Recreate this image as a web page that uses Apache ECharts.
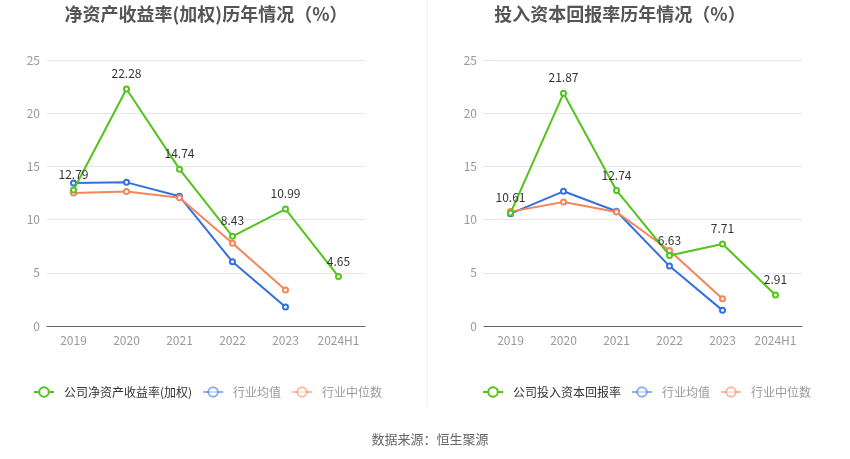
<!DOCTYPE html>
<html>
<head>
<meta charset="utf-8">
<script src="https://cdn.jsdelivr.net/npm/echarts@6/dist/echarts.min.js"></script>
<style>
  html, body { margin: 0; padding: 0; background: #fff; }
  #main { width: 850px; height: 459px; }
</style>
</head>
<body>
<div id="main"></div>
<script>
var years = ['2019', '2020', '2021', '2022', '2023', '2024H1'];

// 净资产收益率(加权)
var roeCompany = [12.79, 22.28, 14.74, 8.43, 10.99, 4.65];
var roeAvg = [13.44, 13.5, 12.19, 6.03, 1.78];
var roeMedian = [12.5, 12.63, 12.06, 7.78, 3.38];

// 投入资本回报率
var roicCompany = [10.61, 21.87, 12.74, 6.63, 7.71, 2.91];
var roicAvg = [10.56, 12.66, 10.78, 5.63, 1.47];
var roicMedian = [10.75, 11.66, 10.72, 7.09, 2.56];

var green = '#52c41a',
    blue = '#3470e0',
    orange = '#f5855a';

var chart = echarts.init(document.getElementById('main'));

function lineSeries(name, data, color, idx, label) {
    return {
        name: name,
        type: 'line',
        xAxisIndex: idx,
        yAxisIndex: idx,
        data: data,
        symbol: 'emptyCircle',
        symbolSize: 5,
        lineStyle: {color: color, width: 2},
        itemStyle: {color: color},
        label: {
            show: label,
            position: 'top',
            color: '#333',
            fontSize: 12,
            distance: 6
        },
        z: label ? 3 : 2,
        animation: false
    };
}

function axisX(idx) {
    return {
        type: 'category',
        gridIndex: idx,
        data: years,
        axisLine: {lineStyle: {color: '#666'}},
        axisTick: {alignWithLabel: true, lineStyle: {color: '#666'}},
        axisLabel: {color: '#999', fontSize: 12, margin: 8, interval: 0}
    };
}

function axisY(idx) {
    return {
        type: 'value',
        gridIndex: idx,
        min: 0,
        max: 25,
        interval: 5,
        axisLine: {show: false},
        axisTick: {show: false},
        axisLabel: {color: '#999', fontSize: 12, margin: 7},
        splitLine: {lineStyle: {color: '#e3e8f0'}}
    };
}

function fadedItem(name) {
    return {
        name: name,
        textStyle: {color: '#999'},
        itemStyle: {opacity: 0.55},
        lineStyle: {opacity: 0.55}
    };
}

function legendAt(x, first) {
    return {
        left: x, top: 381,
        itemWidth: 20, itemHeight: 12, itemGap: 10,
        textStyle: {fontSize: 12, color: '#333', padding: [0, 0, 0, 5]},
        data: [first, fadedItem('行业均值'), fadedItem('行业中位数')]
    };
}

var option = {
    backgroundColor: '#fff',
    textStyle: {fontFamily: 'Noto Sans CJK SC, sans-serif'},
    title: [
        {
            text: '净资产收益率(加权)历年情况（%）',
            left: 201, top: 0, textAlign: 'center',
            textStyle: {fontSize: 18, fontWeight: 'bold', color: '#555'}
        },
        {
            text: '投入资本回报率历年情况（%）',
            left: 615, top: 0, textAlign: 'center',
            textStyle: {fontSize: 18, fontWeight: 'bold', color: '#555'}
        },
        {
            text: '数据来源：恒生聚源',
            left: 425, top: 428, textAlign: 'center',
            textStyle: {fontSize: 13, fontWeight: 'normal', color: '#666'}
        }
    ],
    legend: [
        legendAt(28, '公司净资产收益率(加权)'),
        legendAt(477, '公司投入资本回报率')
    ],
    grid: [
        {left: 47, width: 318, top: 60, height: 266},
        {left: 484, width: 318, top: 60, height: 266}
    ],
    xAxis: [axisX(0), axisX(1)],
    yAxis: [axisY(0), axisY(1)],
    graphic: [{
        type: 'line',
        shape: {x1: 427, y1: 0, x2: 427, y2: 407},
        style: {stroke: '#eeeeee', lineWidth: 1}
    }],
    series: [
        lineSeries('公司净资产收益率(加权)', roeCompany, green, 0, true),
        lineSeries('行业均值', roeAvg, blue, 0, false),
        lineSeries('行业中位数', roeMedian, orange, 0, false),
        lineSeries('公司投入资本回报率', roicCompany, green, 1, true),
        lineSeries('行业均值', roicAvg, blue, 1, false),
        lineSeries('行业中位数', roicMedian, orange, 1, false)
    ]
};

chart.setOption(option);
</script>
</body>
</html>
